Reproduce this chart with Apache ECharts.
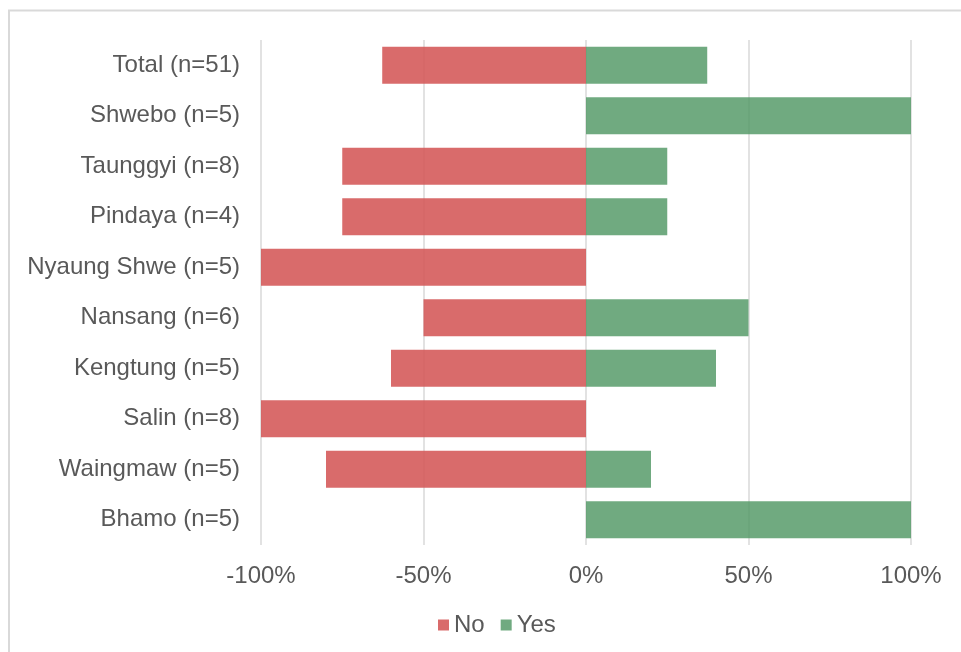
<!DOCTYPE html>
<html>
<head>
<meta charset="utf-8">
<script src="https://cdn.jsdelivr.net/npm/echarts@6/dist/echarts.min.js"></script>
<style>
    html, body { margin: 0; padding: 0; background: #fff; }
    #chart { width: 961px; height: 652px; }
</style>
</head>
<body>
<div id="chart"></div>
<script>
// categories, top to bottom
var categories = ['Total (n=51)', 'Shwebo (n=5)', 'Taunggyi (n=8)', 'Pindaya (n=4)', 'Nyaung Shwe (n=5)',
    'Nansang (n=6)', 'Kengtung (n=5)', 'Salin (n=8)', 'Waingmaw (n=5)', 'Bhamo (n=5)'];
// share answering No (drawn to the left, so negative)
var noValues = [-0.627, 0, -0.75, -0.75, -1, -0.5, -0.6, -1, -0.8, 0];
// share answering Yes
var yesValues = [0.373, 1, 0.25, 0.25, 0, 0.5, 0.4, 0, 0.2, 1];
var tickValues = [-1, -0.5, 0, 0.5, 1];

var chart = echarts.init(document.getElementById('chart'));
var textColor = '#595959';
var fontName = '"Liberation Sans", Arial, sans-serif';

chart.setOption({
    animation: false,
    textStyle: { fontFamily: fontName },
    graphic: [
        { type: 'line', shape: { x1: 8, y1: 10.5, x2: 961, y2: 10.5 }, style: { stroke: '#d9d9d9', lineWidth: 2 } },
        { type: 'line', shape: { x1: 9, y1: 10, x2: 9, y2: 652 }, style: { stroke: '#d9d9d9', lineWidth: 2 } }
    ],
    grid: {
        left: 261,
        right: 50,
        top: 40,
        bottom: 107
    },
    legend: {
        data: ['No', 'Yes'],
        left: 433,
        top: 608,
        itemWidth: 11,
        itemHeight: 11,
        itemGap: 16,
        icon: 'rect',
        textStyle: { color: textColor, fontSize: 24, fontFamily: fontName }
    },
    xAxis: {
        type: 'value',
        min: -1,
        max: 1,
        interval: 0.5,
        axisLine: { show: false },
        axisTick: { show: false },
        splitLine: { show: true, lineStyle: { color: '#d9d9d9', width: 1.5 } },
        axisLabel: {
            color: textColor,
            fontSize: 24,
            margin: 19,
            formatter: function (v) {
                var i = tickValues.indexOf(v);
                return Math.round(tickValues[i] * 100) + '%';
            }
        }
    },
    yAxis: {
        type: 'category',
        data: categories,
        inverse: true,
        axisLine: { show: false },
        axisTick: { show: false },
        axisLabel: { color: textColor, fontSize: 24, margin: 21 }
    },
    series: [
        {
            name: 'No',
            type: 'bar',
            stack: 'total',
            barCategoryGap: '27%',
            data: noValues,
            itemStyle: { color: 'rgba(212, 87, 87, 0.88)' }
        },
        {
            name: 'Yes',
            type: 'bar',
            stack: 'total',
            barCategoryGap: '27%',
            data: yesValues,
            itemStyle: { color: 'rgba(87, 155, 106, 0.85)' }
        }
    ]
});
</script>
</body>
</html>
